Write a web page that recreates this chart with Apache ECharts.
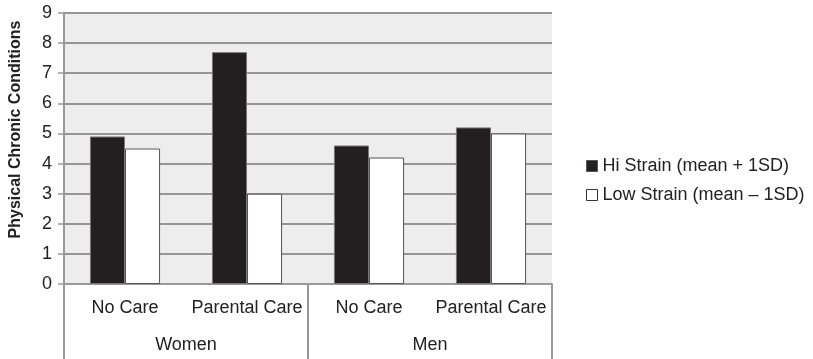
<!DOCTYPE html>
<html>
<head>
<meta charset="utf-8">
<script src="https://cdn.jsdelivr.net/npm/echarts@6/dist/echarts.min.js"></script>
<style>
html,body{margin:0;padding:0;background:#fff;}
#chart{width:813px;height:359px;}
</style>
</head>
<body>
<div id="chart"></div>
<script>
var careCategories = ['No Care', 'Parental Care', 'No Care', 'Parental Care'];
var genderGroups = ['Women', 'Men'];
var hiStrain = [4.9, 7.7, 4.6, 5.2];
var lowStrain = [4.5, 3.0, 4.2, 5.0];
var seriesNames = ['Hi Strain (mean + 1SD)', 'Low Strain (mean \u2013 1SD)'];
var yTicks = [0, 1, 2, 3, 4, 5, 6, 7, 8, 9];
var yTitle = 'Physical Chronic Conditions';

var FONT = '"Liberation Sans", Arial, sans-serif';
var chart = echarts.init(document.getElementById('chart'), null, {renderer: 'canvas'});
chart.setOption({
  animation: false,
  backgroundColor: '#ffffff',
  grid: {left: 64, right: 261, top: 13, bottom: 75, show: true, backgroundColor: '#ededed', borderWidth: 0},
  legend: {
    orient: 'vertical', left: 581, top: 152, itemWidth: 11, itemHeight: 11, itemGap: 11,
    textStyle: {fontFamily: FONT, fontSize: 18, color: '#222'},
    data: [
      {name: seriesNames[0], icon: 'rect', itemStyle: {color: '#231f20', borderColor: '#555', borderWidth: 1}},
      {name: seriesNames[1], icon: 'rect', itemStyle: {color: '#ffffff', borderColor: '#333', borderWidth: 1}}
    ]
  },
  xAxis: [
    {
      type: 'category', data: careCategories, position: 'bottom',
      axisLine: {show: true, lineStyle: {color: '#999', width: 2}},
      axisTick: {show: false},
      axisLabel: {interval: 0, margin: 15, fontFamily: FONT, fontSize: 18, color: '#222'}
    },
    {
      type: 'category', data: genderGroups, position: 'bottom', gridIndex: 0,
      axisLine: {show: false},
      axisTick: {show: true, length: 75, lineStyle: {color: '#999', width: 2}},
      axisLabel: {interval: 0, margin: 52, fontFamily: FONT, fontSize: 18, color: '#222'}
    }
  ],
  yAxis: {
    type: 'value', min: 0, max: 9, interval: 1,
    axisLine: {show: true, lineStyle: {color: '#999', width: 2}},
    axisTick: {show: true, length: 6, lineStyle: {color: '#999', width: 1.5}},
    axisLabel: {margin: 12, fontFamily: FONT, fontSize: 18, color: '#222',
      formatter: function (v) { return yTicks.indexOf(v) >= 0 ? String(v) : ''; }},
    splitLine: {show: true, lineStyle: {color: '#959595', width: 2}}
  },
  graphic: [{
    type: 'text', x: 16, y: 129.5, rotation: Math.PI / 2,
    style: {text: yTitle, fontFamily: FONT, fontSize: 16, fontWeight: 'bold', fill: '#222',
      align: 'center', verticalAlign: 'middle'}
  }],
  series: [
    {
      name: seriesNames[0], type: 'bar', xAxisIndex: 0, data: hiStrain,
      barGap: '0%', barCategoryGap: '42.5%',
      itemStyle: {color: '#231f20', borderColor: '#777', borderWidth: 1}
    },
    {
      name: seriesNames[1], type: 'bar', xAxisIndex: 0, data: lowStrain,
      itemStyle: {color: '#ffffff', borderColor: '#555', borderWidth: 1}
    }
  ]
});
</script>
</body>
</html>
